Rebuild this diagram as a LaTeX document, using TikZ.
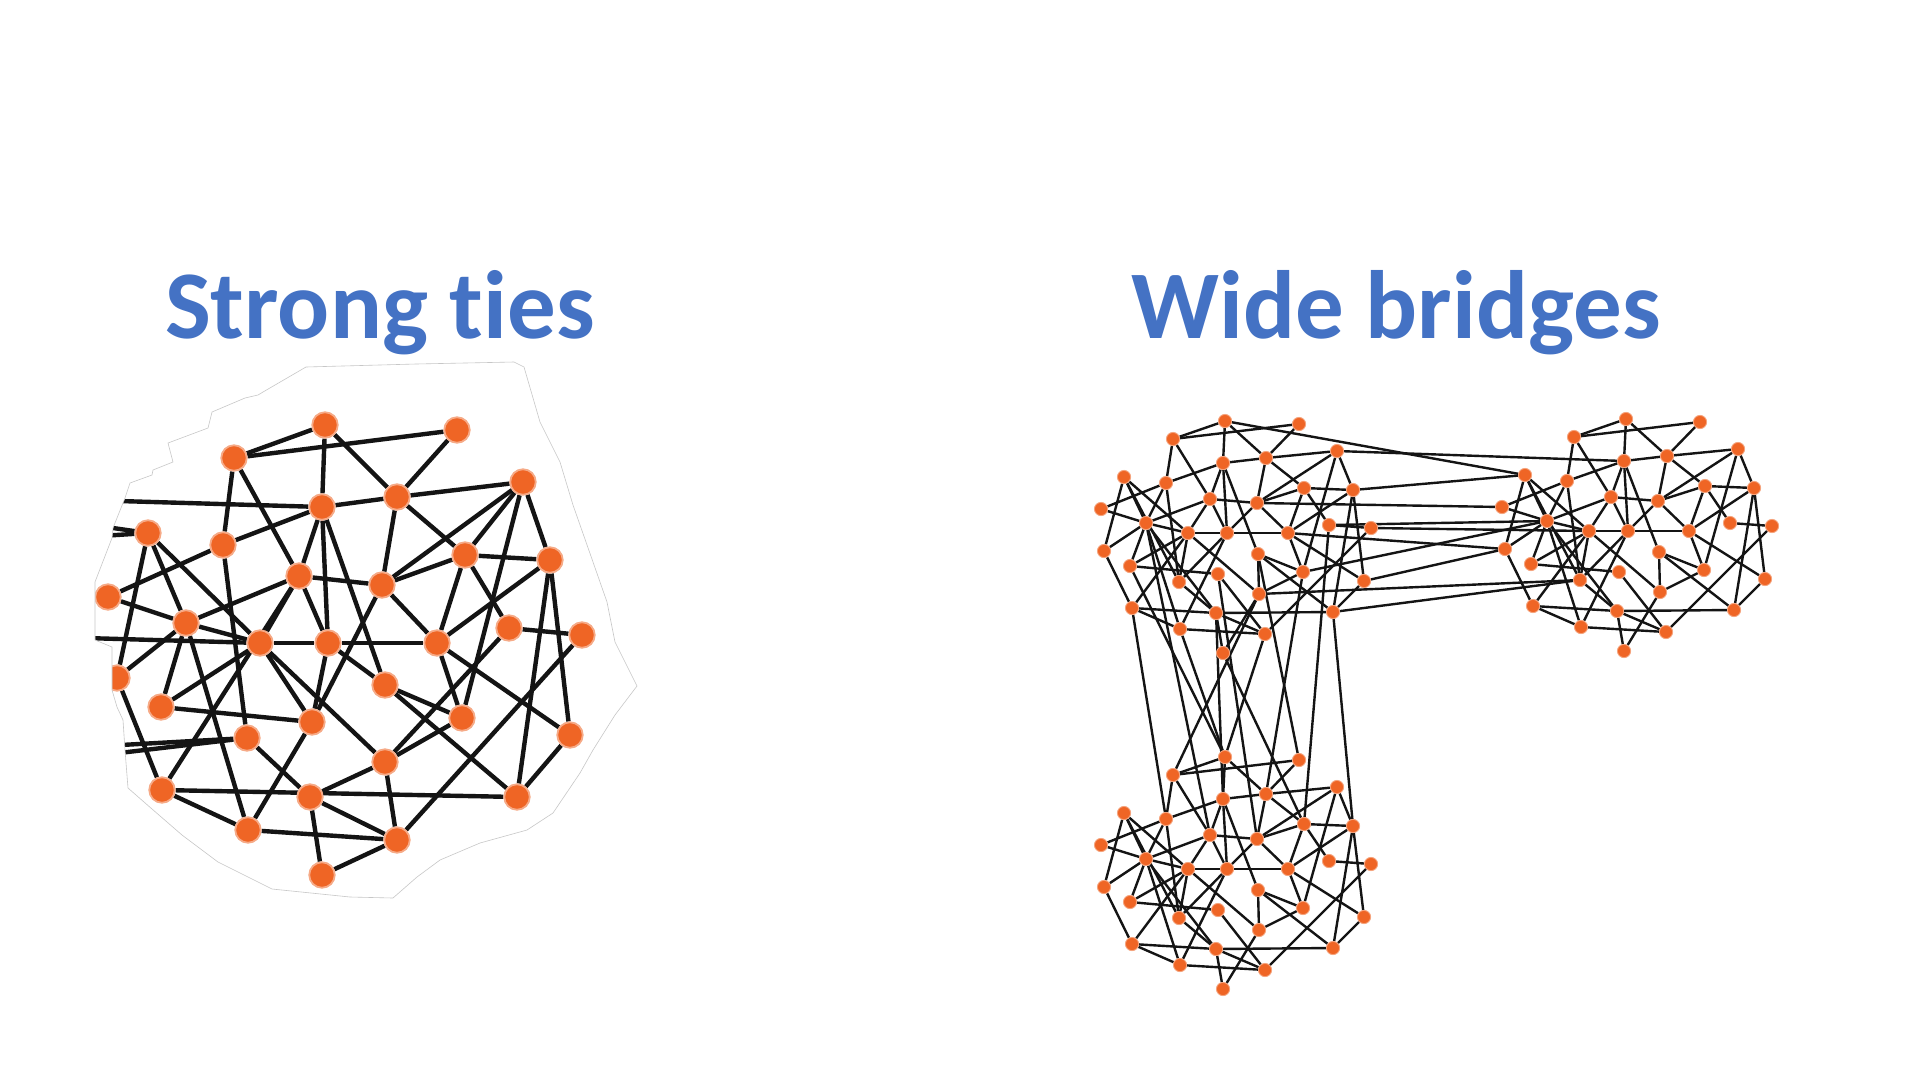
\documentclass[tikz,border=0pt]{standalone}
\usepackage{fontspec}
\setmainfont{Carlito}[Ligatures=NoCommon]
\pgfdeclarelayer{bgfill}
\pgfdeclarelayer{edges}
\pgfsetlayers{bgfill,edges,main}
\definecolor{nodeor}{RGB}{239,101,37}
\definecolor{titleblue}{RGB}{68,114,196}
\begin{document}
\begin{tikzpicture}[x=1pt,y=-1pt,
  lnode/.style={circle,fill=nodeor,draw=nodeor!55,line width=1.8pt,minimum size=25.5pt,inner sep=0pt},
  rnode/.style={circle,fill=nodeor,draw=nodeor!60,line width=0.9pt,minimum size=13.2pt,inner sep=0pt},
  ledge/.style={line width=4.4pt,draw=black!92},
  redge/.style={line width=2.4pt,draw=black!92},
  titletext/.style={text=titleblue,font=\fontsize{97}{106}\selectfont\bfseries,anchor=base,inner sep=0pt},
  shapeline/.style={draw=black!22,line width=0.6pt}]
\useasboundingbox (0,0) rectangle (1920,1080);
\begin{pgfonlayer}{bgfill}
\fill[white] (0,0) rectangle (1920,1080);
\end{pgfonlayer}

% titles
\node[titletext] (t1) at (380,338) {Strong ties};
\node[titletext] (t2) at (1396,338) {Wide bridges};

% ---------------- left graph ----------------
\foreach \idx/\x/\y in {1/325/425, 2/457/430, 3/234/458, 4/523/482, 5/322/507, 6/397/497,
  7/148/533, 8/223/545, 9/465/555, 10/550/560, 11/299/576, 12/382/585, 13/108/597,
  14/186/623, 15/260/643, 16/328/643, 17/437/643, 18/509/628, 19/582/635, 20/117/678,
  21/385/685, 22/161/707, 23/312/722, 24/462/718, 25/247/738, 26/570/735, 27/385/762,
  28/162/790, 29/310/797, 30/517/797, 31/248/830, 32/397/840, 33/322/875}
  \node[lnode] (n\idx) at (\x,\y) {};

\coordinate (lA) at (85,500);
\coordinate (lB) at (85,524);
\coordinate (lC) at (85,537);
\coordinate (lD) at (85,638);
\coordinate (lE) at (85,747);
\coordinate (lF) at (85,757);

\begin{pgfonlayer}{edges}
\foreach \ea/\eb in {1/3, 1/5, 1/6, 2/3, 2/6, 3/8, 3/11, 4/6, 4/12, 4/9, 4/10, 4/24,
  5/6, 5/8, 5/11, 5/16, 5/21, 6/9, 6/12,
  7/14, 7/15, 7/20, 8/13, 8/25,
  9/10, 9/12, 9/17, 9/18, 10/17, 10/26, 10/30,
  11/12, 11/14, 11/15, 11/16, 11/28,
  12/17, 12/23, 13/14, 14/15, 14/20, 14/22, 14/31,
  15/16, 15/22, 15/23, 15/27, 16/17, 16/21, 16/23,
  17/24, 17/26, 18/19, 18/27, 19/32,
  20/28, 21/24, 21/30, 22/23, 24/27, 25/29,
  26/30, 27/29, 27/32, 28/30, 28/31, 29/32, 29/33, 31/32, 32/33, 23/31}
  \draw[ledge] (n\ea) -- (n\eb);
\foreach \ea/\eb in {lA/5, lB/7, lC/7, lD/15, lE/25, lF/25}
  \draw[ledge] (\ea) -- (n\eb);
\end{pgfonlayer}

% cut-out shape of the left picture
\def\leftshape{(258,395) -- (263,392) -- (306,367) -- (416,364) -- (514,362) -- (524,367)
  -- (540,422) -- (560,462) -- (573,505) -- (593,562) -- (607,602) -- (615,642) -- (637,686)
  -- (615,715) -- (593,750) -- (580,773) -- (553,813) -- (527,830) -- (480,843) -- (440,860)
  -- (417,877) -- (393,898) -- (350,897) -- (272,889) -- (218,862) -- (182,835) -- (152,809)
  -- (128,788) -- (125,750) -- (123,720) -- (117,707) -- (112,690) -- (112,647) -- (95,640)
  -- (95,602) -- (95,582) -- (112,538) -- (113,528) -- (125,498) -- (130,483) -- (152,475)
  -- (153,470) -- (173,462) -- (168,443) -- (208,428) -- (212,412) -- (245,398) -- cycle}
\fill[white,even odd rule] (0,362) rectangle (720,1080) \leftshape;
\draw[shapeline] \leftshape;

% ---------------- right graph: three clusters ----------------
\foreach \k/\dx/\dy in {1/0/0, 2/401/-2, 3/0/336} {
  \foreach \nm/\x/\y in {A/1225/421, B/1299/424, C/1173/439, D/1337/451, E/1223/463,
    F/1266/458, G/1124/477, H/1166/483, I/1304/488, J/1353/490, K/1210/499, L/1257/503,
    M/1101/509, N/1146/523, O/1329/525, P/1371/528, Q/1188/533, R/1227/533, S/1288/533,
    T/1104/551, U/1258/554, V/1130/566, W/1218/574, X/1179/582, Y/1303/572, Z/1364/581,
    a/1259/594, b/1132/608, c/1216/613, d/1333/612, e/1180/629, f/1265/634, g/1223/653}
    \node[rnode] (c\k\nm) at (\x+\dx,\y+\dy) {};
}

\begin{pgfonlayer}{edges}
\foreach \k in {1,2,3} {
  \foreach \ea/\eb in {A/C, A/E, A/F, B/C, B/F, C/H, C/K, E/H, E/K, E/R, E/F, E/U,
    F/D, F/I, F/L, D/L, D/Y, D/J, I/J, I/L, I/O, I/S, J/S, J/Z, J/d, O/P, P/f, Z/d,
    S/Z, S/Y, S/R, L/S, L/R, K/L, U/Y, U/d, U/a, Y/a, c/d, g/a, G/N, G/Q, G/T, G/X,
    H/M, H/N, H/X, K/N, K/Q, K/R, M/N, N/Q, N/T, N/V, N/e, N/c, Q/R, Q/V, Q/X, Q/b,
    Q/a, R/X, R/e, V/W, X/c, W/f, b/c, b/e, b/T, c/g, c/f, e/f}
    \draw[redge] (c\k\ea) -- (c\k\eb);
}
% bridges between cluster 1 and cluster 2
\foreach \ea/\eb in {c1D/c2E, c1A/c2G, c1J/c2G, c1L/c2M, c1P/c2Q, c1O/c2N, c1Y/c2N,
  c1S/c2T, c1Z/c2T, c1a/c2X, c1d/c2X}
  \draw[redge] (\ea) -- (\eb);
% bridges between cluster 1 and cluster 3
\foreach \ea/\eb in {c1b/c3H, c1N/c3K, c1V/c3A, c1e/c3A, c1f/c3A, c1c/c3E, c1W/c3L,
  c1g/c3I, c1U/c3B, c1Y/c3F, c1O/c3I, c1d/c3J, c1a/c3C}
  \draw[redge] (\ea) -- (\eb);
\end{pgfonlayer}
\end{tikzpicture}
\end{document}
